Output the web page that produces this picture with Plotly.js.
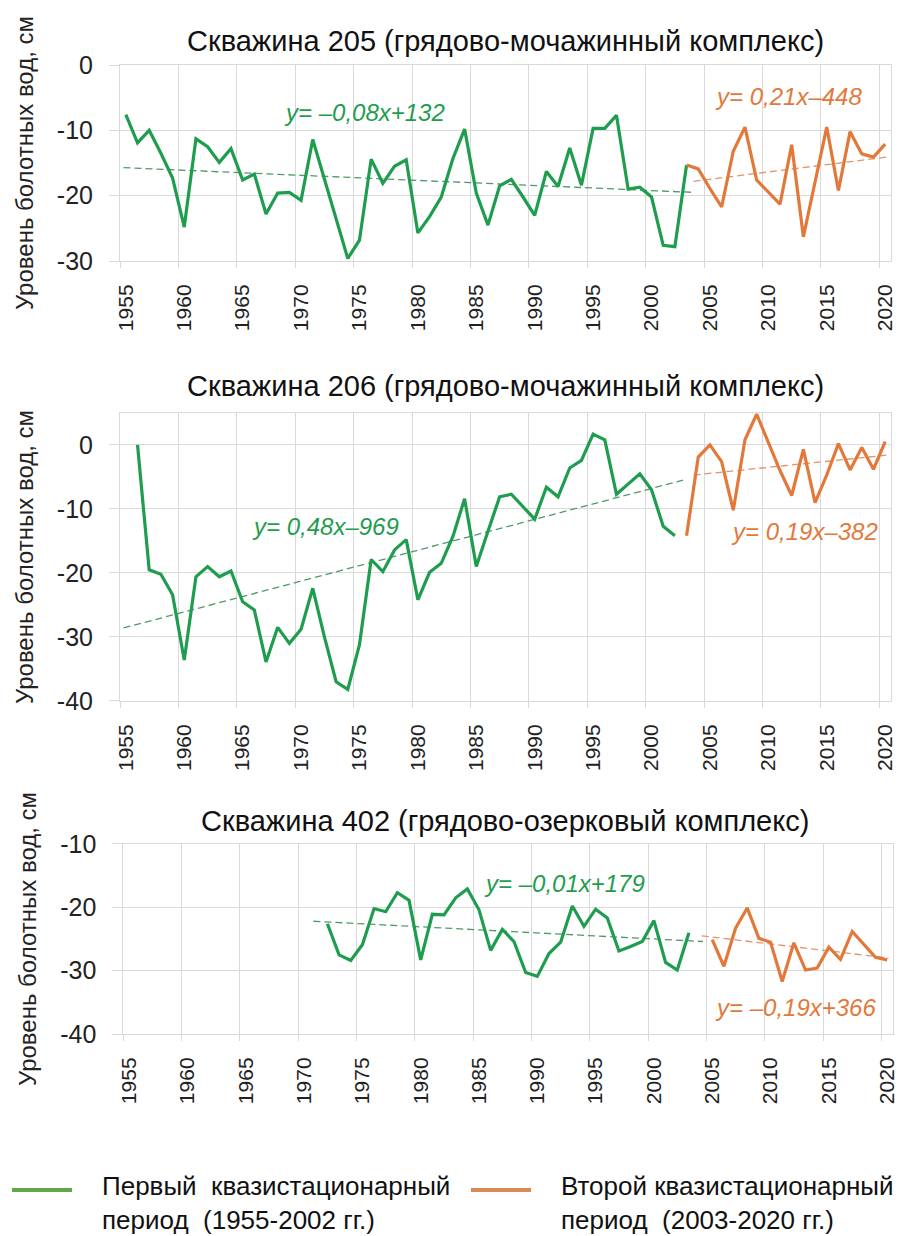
<!DOCTYPE html>
<html>
<head>
<meta charset="utf-8">
<script src="https://cdn.plot.ly/plotly-3.0.1.min.js"></script>
<style>
  body { margin: 0; background: #fff; }
  #chart { width: 907px; height: 1236px; }
</style>
</head>
<body>
<div id="chart"></div>
<script>
// years and levels
let years205a = []
for (let y = 1955; y <= 2003; y++) years205a.push(y)
let level205a = [-7.6, -11.9, -10.0, -13.5, -17.3, -24.8, -11.3, -12.5, -14.9, -12.8,
  -17.6, -16.7, -22.8, -19.6, -19.5, -20.7, -11.4, -17.5, -23.5, -29.6,
  -26.8, -14.4, -18.1, -15.5, -14.5, -25.7, -23.2, -20.2, -14.3, -9.8,
  -19.6, -24.5, -18.5, -17.5, -20.2, -23.0, -16.3, -18.6, -12.7, -18.4,
  -9.7, -9.7, -7.7, -19.0, -18.7, -20.2, -27.6, -27.8, -15.3]

let years205b = []
for (let y = 2003; y <= 2020; y++) years205b.push(y)
let level205b = [-15.3, -15.9, -18.9, -21.7, -13.2, -9.5, -17.6, -19.4, -21.3, -12.2,
  -26.3, -17.9, -9.5, -19.2, -10.2, -13.6, -14.1, -12.1]

let years206a = []
for (let y = 1956; y <= 2002; y++) years206a.push(y)
let level206a = [0, -19.5, -20.2, -23.4, -33.6, -20.6, -19.0, -20.6, -19.7, -24.5,
  -25.8, -33.9, -28.5, -31.0, -28.8, -22.4, -30.0, -37.0, -38.2, -31.2,
  -17.9, -19.8, -16.4, -14.8, -24.2, -19.9, -18.5, -14.3, -8.4, -19.0,
  -13.5, -8.1, -7.7, -9.6, -11.6, -6.6, -8.1, -3.6, -2.4, 1.7,
  0.8, -7.7, -6.1, -4.5, -7.0, -12.7, -14.2]

let years206b = years205b
let level206b = [-14.2, -1.9, 0, -2.6, -10.2, 0.8, 4.8, 0.5, -4.0, -7.9,
  -0.7, -9.0, -4.7, 0.2, -3.9, -0.4, -3.8, 0.5]

let years402a = []
for (let y = 1972; y <= 2003; y++) years402a.push(y)
let level402a = [-22.6, -27.5, -28.4, -25.9, -20.2, -20.7, -17.7, -18.9, -28.3, -21.1,
  -21.2, -18.5, -17.1, -20.4, -26.8, -23.5, -25.4, -30.3, -30.9, -27.3,
  -25.5, -19.8, -23.0, -20.3, -21.7, -26.9, -26.2, -25.4, -22.1, -28.7,
  -29.9, -24.0]

let years402b = []
for (let y = 2005; y <= 2020; y++) years402b.push(y)
let level402b = [-25.1, -29.3, -23.3, -20.1, -24.9, -25.5, -31.7, -25.6, -29.9, -29.6,
  -26.3, -28.2, -23.8, -25.8, -27.9, -28.3]

// trend line ends as drawn
let trend205aX = [1954.8, 2003.7], trend205aY = [-15.7, -19.5]
let trend205bX = [2003.6, 2020.1], trend205bY = [-17.8, -14.1]
let trend206aX = [1954.8, 2002.7], trend206aY = [-28.6, -5.5]
let trend206bX = [2003.6, 2020.1], trend206bY = [-4.7, -1.6]
let trend402aX = [1970.8, 2004.2], trend402aY = [-22.2, -25.4]
let trend402bX = [2004.1, 2020.1], trend402bY = [-24.5, -28.0]

let tickYears = []
for (let y = 1955; y <= 2020; y += 5) tickYears.push(y)
let gridYears = tickYears.map(y => y - 0.5)

let yTicks205 = [-30, -20, -10, 0]
let yTicks206 = [-40, -30, -20, -10, 0]
let yTicks402 = [-40, -30, -20, -10]

const green = '#1f9d4f'
const orange = '#e2793a'
const fontFamily = 'Liberation Sans, Arial, sans-serif'

function line(x, y, color, n) {
  return { x: x, y: y, xaxis: 'x' + n, yaxis: 'y' + n, type: 'scatter', mode: 'lines',
    line: { color: color, width: 3.2 }, hoverinfo: 'skip' }
}
function trend(x, y, color, n) {
  return { x: x, y: y, xaxis: 'x' + n, yaxis: 'y' + n, type: 'scatter', mode: 'lines',
    line: { color: color, width: 1.3, dash: '7px,4px' }, hoverinfo: 'skip' }
}

let data = [
  trend(trend205aX, trend205aY, '#4f9a68', ''), trend(trend205bX, trend205bY, '#e0946a', ''),
  line(years205a, level205a, green, ''), line(years205b, level205b, orange, ''),
  trend(trend206aX, trend206aY, '#4f9a68', 2), trend(trend206bX, trend206bY, '#e0946a', 2),
  line(years206a, level206a, green, 2), line(years206b, level206b, orange, 2),
  trend(trend402aX, trend402aY, '#4f9a68', 3), trend(trend402bX, trend402bY, '#e0946a', 3),
  line(years402a, level402a, green, 3), line(years402b, level402b, orange, 3)
]

const gridColor = '#d9d9d9'

function xAxis(domain, anchor) {
  return {
    domain: domain, anchor: anchor, range: [1954.5, 2020.5],
    tickmode: 'array', tickvals: tickYears, ticktext: tickYears.map(String),
    tickangle: -90, ticks: '', showgrid: false, zeroline: false,
    ticklabelstandoff: 14,
    tickfont: { size: 21, color: '#222' },
    minor: { tickmode: 'array', tickvals: gridYears, showgrid: true, gridcolor: gridColor,
      gridwidth: 1, ticks: 'outside', ticklen: 6, tickcolor: gridColor },
    showline: true, linecolor: gridColor, linewidth: 1, mirror: true, fixedrange: true
  }
}
function yAxis(domain, anchor, range, ticks) {
  return {
    domain: domain, anchor: anchor, range: range,
    tickmode: 'array', tickvals: ticks, ticktext: ticks.map(String),
    gridcolor: gridColor, zeroline: false,
    ticks: 'outside', ticklen: 10, tickcolor: gridColor, ticklabelstandoff: 11,
    tickfont: { size: 25, color: '#222' },
    showline: true, linecolor: gridColor, mirror: true, fixedrange: true,
    title: { text: 'Уровень болотных вод, см', font: { size: 24, color: '#222' }, standoff: 16 }
  }
}

function eq(text, x, y, color, n) {
  return { text: text, x: x, y: y, xref: 'x' + n, yref: 'y' + n, showarrow: false,
    font: { size: 24, color: color, family: fontFamily, style: 'italic' } }
}
function panelTitle(text, y) {
  return { text: text, x: 0.4987, y: y, xref: 'paper', yref: 'paper', showarrow: false,
    xanchor: 'center', yanchor: 'middle', font: { size: 29, color: '#111' } }
}

const narrow = 'Liberation Sans Narrow, Arial Narrow, sans-serif'

let annotations = [
  panelTitle('Скважина 205 (грядово-мочажинный комплекс)', 0.967),
  panelTitle('Скважина 206 (грядово-мочажинный комплекс)', 0.6877),
  panelTitle('Скважина 402 (грядово-озерковый комплекс)', 0.3358),
  eq('y= –0,08x+132', 1975.4, -7.3, green, ''),
  eq('y= 0,21x–448', 2011.7, -4.8, orange, ''),
  eq('y= 0,48x–969', 1972.1, -12.8, green, 2),
  eq('y= 0,19x–382', 2013.1, -13.6, orange, 2),
  eq('y= –0,01x+179', 1992.3, -16.2, green, 3),
  eq('y= –0,19x+366', 2012.1, -35.8, orange, 3),
  { text: 'Первый  квазистационарный<br>период  (1955-2002 гг.)', x: -0.0259, y: 0.0267,
    xref: 'paper', yref: 'paper', xanchor: 'left', yanchor: 'middle', align: 'left', showarrow: false,
    font: { size: 26, color: '#111', family: narrow } },
  { text: 'Второй квазистационарный<br>период  (2003-2020 гг.)', x: 0.5679, y: 0.0267,
    xref: 'paper', yref: 'paper', xanchor: 'left', yanchor: 'middle', align: 'left', showarrow: false,
    font: { size: 26, color: '#111', family: narrow } }
]

let shapes = [
  { type: 'line', xref: 'paper', yref: 'paper', x0: -0.1397, x1: -0.0621, y0: 0.0372, y1: 0.0372,
    line: { color: '#62a64a', width: 4 } },
  { type: 'line', xref: 'paper', yref: 'paper', x0: 0.4541, x1: 0.5317, y0: 0.0372, y1: 0.0372,
    line: { color: '#d98a56', width: 4 } }
]

let layout = {
  width: 907, height: 1236,
  margin: { l: 120, r: 14, t: 0, b: 0 },
  paper_bgcolor: '#fff', plot_bgcolor: '#fff',
  showlegend: false,
  font: { family: fontFamily, size: 22, color: '#222' },
  xaxis: xAxis([0, 0.9974], 'y'),
  yaxis: yAxis([0.7888, 0.9474], 'x', [-30, 0], yTicks205),
  xaxis2: xAxis([0, 0.9974], 'y2'),
  yaxis2: yAxis([0.4329, 0.6659], 'x2', [-40, 5], yTicks206),
  xaxis3: xAxis([0.0043, 1], 'y3'),
  yaxis3: yAxis([0.1634, 0.3172], 'x3', [-40, -10], yTicks402),
  annotations: annotations,
  shapes: shapes
}

Plotly.newPlot('chart', data, layout, { staticPlot: true })
</script>
</body>
</html>
